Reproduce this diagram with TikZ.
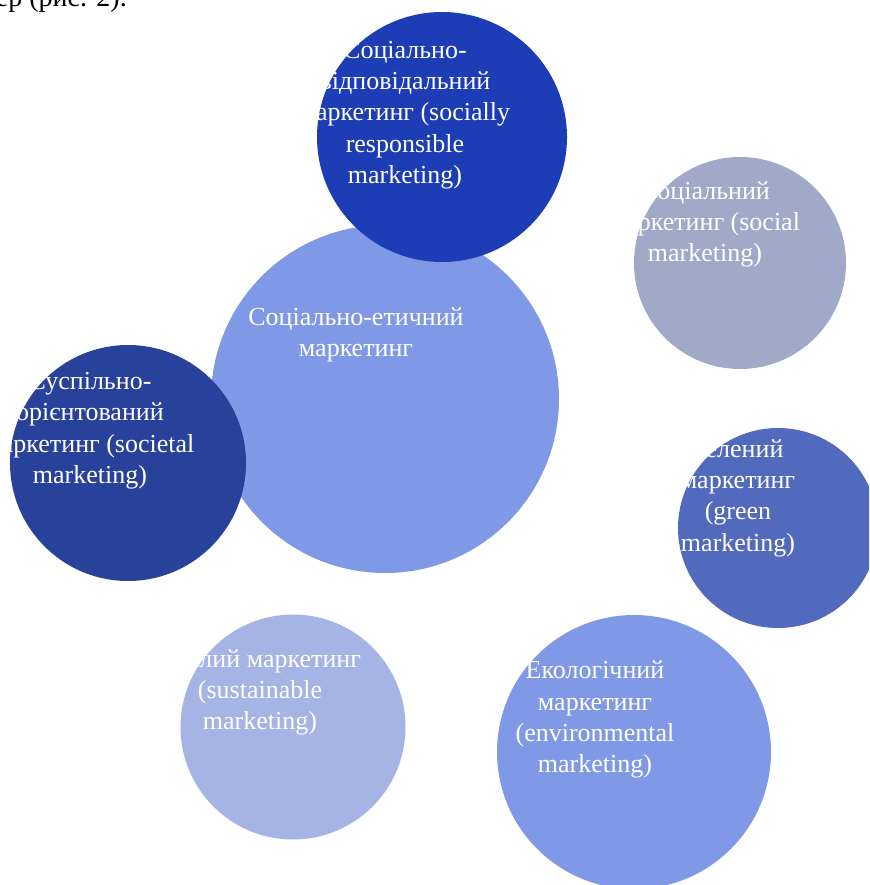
\documentclass[tikz,border=0pt]{standalone}
\usepackage{fontspec}
\setmainfont{Liberation Serif}

% circle fills
\definecolor{respblue}{RGB}{28,61,181}
\definecolor{socialgrey}{RGB}{160,170,200}
\definecolor{ethicblue}{RGB}{128,153,230}
\definecolor{societalblue}{RGB}{40,65,155}
\definecolor{greenblue}{RGB}{81,106,190}
\definecolor{sustainblue}{RGB}{165,180,228}
\definecolor{envblue}{RGB}{128,153,230}

\tikzset{
  bubble/.style={circle, draw=none, inner sep=0pt, minimum size=#1},
  bubbletext/.style={text=white, align=center, inner sep=0pt,
    font=\fontsize{26}{31.2}\selectfont,
    execute at begin node=\strut, execute at end node=\strut},
}

\begin{document}
\begin{tikzpicture}[x=1pt, y=-1pt]
  \useasboundingbox (0,0) rectangle (869,885);
  \clip (0,0) rectangle (869,885);

  % tail of the preceding sentence
  \node[anchor=base east, inner sep=0pt, font=\fontsize{28}{34}\selectfont] (caption) at (127,7) {ер (рис. 2).};

  % central bubble
  \node[bubble=348pt, fill=ethicblue] (ethic) at (385,399) {};
  \node[bubbletext] (ethic-t) at (356,336.5) {Соціально-етичний\\маркетинг};

  % socially responsible marketing
  \node[bubble=250pt, fill=respblue] (resp) at (442,137) {};
  \node[bubbletext] (resp-t) at (405,117) {Соціально-\\відповідальний\\маркетинг (socially\\responsible\\marketing)};

  % societal marketing
  \node[bubble=236pt, fill=societalblue] (societal) at (128,463) {};
  \node[bubbletext] (societal-t) at (90,432.5) {Суспільно-\\орієнтований\\маркетинг (societal\\marketing)};

  % social marketing
  \node[bubble=212pt, fill=socialgrey] (social) at (740,263) {};
  \node[bubbletext] (social-t) at (705,226) {Соціальний\\маркетинг (social\\marketing)};

  % green marketing
  \node[bubble=200pt, fill=greenblue] (green) at (778,528) {};
  \node[bubbletext] (green-t) at (738,500) {Зелений\\маркетинг\\(green\\marketing)};

  % sustainable marketing
  \node[bubble=225pt, fill=sustainblue] (sustain) at (293,727) {};
  \node[bubbletext] (sustain-t) at (260,694.5) {Сталий маркетинг\\(sustainable\\marketing)};

  % environmental marketing
  \node[bubble=274pt, fill=envblue] (env) at (634,752) {};
  \node[bubbletext] (env-t) at (595,721.5) {Екологічний\\маркетинг\\(environmental\\marketing)};
\end{tikzpicture}
\end{document}
